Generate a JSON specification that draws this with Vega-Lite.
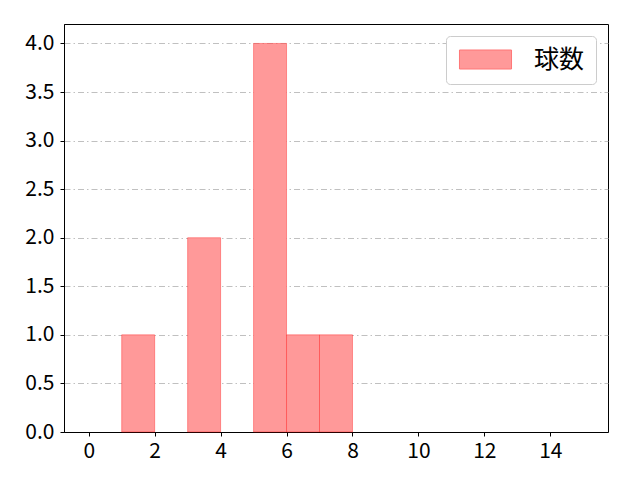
{
  "$schema": "https://vega.github.io/schema/vega-lite/v6.json",
  "width": 544,
  "height": 408,
  "autosize": {"type": "none"},
  "padding": {"left": 64, "top": 24, "right": 32, "bottom": 48},
  "background": "white",
  "config": {
    "font": "Noto Sans CJK JP",
    "view": {"stroke": "black", "strokeWidth": 1},
    "axis": {
      "labelFont": "Noto Sans CJK JP",
      "labelFontSize": 21,
      "labelColor": "black",
      "tickColor": "black",
      "tickSize": 4,
      "domainColor": "black",
      "domainWidth": 1,
      "title": null
    }
  },
  "data": {
    "values": [
      {"bin_start": 1, "bin_end": 2, "count": 1, "series": "球数"},
      {"bin_start": 3, "bin_end": 4, "count": 2, "series": "球数"},
      {"bin_start": 5, "bin_end": 6, "count": 4, "series": "球数"},
      {"bin_start": 6, "bin_end": 7, "count": 1, "series": "球数"},
      {"bin_start": 7, "bin_end": 8, "count": 1, "series": "球数"}
    ]
  },
  "mark": {
    "type": "rect",
    "stroke": "#ff0000",
    "strokeOpacity": 0.35,
    "strokeWidth": 1
  },
  "encoding": {
    "x": {
      "field": "bin_start",
      "type": "quantitative",
      "scale": {"domain": [-0.75, 15.75], "nice": false, "zero": false},
      "axis": {"values": [0, 2, 4, 6, 8, 10, 12, 14], "grid": false, "labelPadding": 4, "labelFlush": false}
    },
    "x2": {"field": "bin_end"},
    "y": {
      "field": "count",
      "type": "quantitative",
      "scale": {"domain": [0, 4.2], "nice": false},
      "axis": {
        "values": [0, 0.5, 1, 1.5, 2, 2.5, 3, 3.5, 4],
        "format": ".1f",
        "grid": true,
        "gridColor": "#b0b0b0",
        "gridWidth": 0.8,
        "gridDash": [6, 3, 1.5, 3],
        "labelPadding": 6,
        "labelFlush": false
      }
    },
    "y2": {"datum": 0},
    "fill": {
      "field": "series",
      "type": "nominal",
      "scale": {"range": ["#ff9999"]},
      "legend": {
        "title": null,
        "orient": "top-right",
        "offset": 12,
        "padding": 11,
        "cornerRadius": 4,
        "strokeColor": "#cccccc",
        "fillColor": "white",
        "symbolType": "M-2.74,-1H2.74V1H-2.74Z",
        "symbolSize": 361,
        "symbolOffset": 16,
        "symbolStrokeColor": "#ff7777",
        "symbolStrokeWidth": 1,
        "labelFontSize": 25,
        "labelFont": "Noto Sans CJK JP",
        "labelColor": "black",
        "labelOffset": 36
      }
    }
  }
}
